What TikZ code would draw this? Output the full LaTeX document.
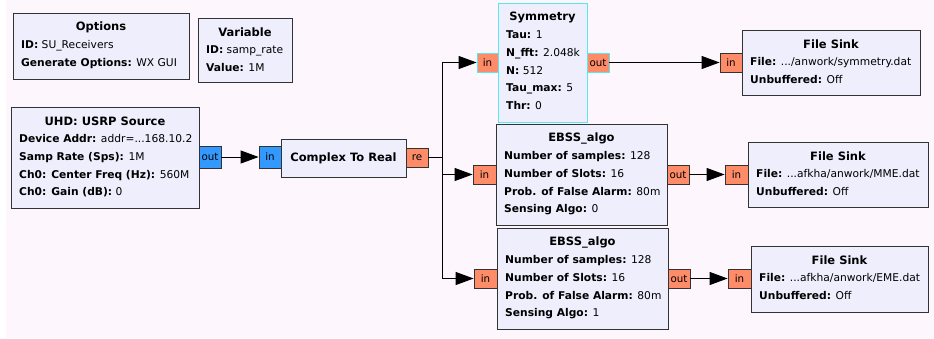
\documentclass[tikz,border=0pt]{standalone}
\usepackage{fontspec}
\setmainfont{DejaVu Sans}
\usetikzlibrary{arrows.meta}
\definecolor{bgc}{HTML}{FDF7FD}
\definecolor{blkfill}{HTML}{EEEEFD}
\definecolor{blkdraw}{HTML}{333333}
\definecolor{cplx}{HTML}{3399FF}
\definecolor{flt}{HTML}{FF8C69}
\definecolor{selc}{HTML}{55E8F0}
\newcommand\tdots{.\kern0pt.\kern0pt.}
\tikzset{
  blk/.style={draw=blkdraw, fill=blkfill, line width=1.1pt, inner sep=0pt},
  ttl/.style={font=\fontsize{11.5}{13}\selectfont\bfseries, inner sep=0pt},
  ln/.style={font=\fontsize{10.7}{12}\selectfont, inner sep=0pt},
  port/.style={draw=blkdraw, line width=0.8pt, inner sep=0pt, minimum width=22pt, minimum height=19pt, font=\fontsize{10.3}{12}\selectfont},
  cport/.style={port, fill=cplx, minimum height=22pt},
  fport/.style={port, fill=flt},
  conn/.style={line width=1pt, black},
  arr/.style={conn, -{Triangle[length=18pt,width=13pt]}}
}
\newcommand\grcblock[8][blk]{%
  \node[#1, minimum width={#5-#3}, minimum height={#6-#4}, anchor=north west] (#2) at (#3,#4) {};
  \node[ttl] (#2-t) at ({(#3+#5)/2},{#4+14}) {#7};
  \foreach \txt [count=\i] in {#8} {
    \node[ln, anchor=base west] (#2-l\i) at ({#3+8},{#4+32+17.7*(\i-1)+3.8}) {\txt};
  }
}
\begin{document}
\begin{tikzpicture}[x=1pt,y=-1pt]
\useasboundingbox (0,0) rectangle (934,338);
\fill[bgc] (6,0) rectangle (934,338);

\grcblock{opt}{13}{13}{189}{79}{Options}{{\textbf{ID:} SU\_Receivers},{\textbf{Generate Options:} WX GUI}}
\grcblock{var}{198}{18}{292}{82}{Variable}{{\textbf{ID:} samp\_rate},{\textbf{Value:} 1M}}
\grcblock{usrp}{11}{107}{199}{208}{UHD: USRP Source}{{\textbf{Device Addr:} addr=\tdots168.10.2},{\textbf{Samp Rate (Sps):} 1M},{\textbf{Ch0: Center Freq (Hz):} 560M},{\textbf{Ch0: Gain (dB):} 0}}
\node[blk, minimum width=125pt, minimum height=38pt, anchor=north west] (ctr) at (281,139) {};
\node[ttl] (ctr-t) at (343.5,158) {Complex To Real};
\grcblock[blk,draw=selc]{sym}{498}{3}{587}{122}{Symmetry}{{\textbf{Tau:} 1},{\textbf{N\_fft:} 2.048k},{\textbf{N:} 512},{\textbf{Tau\_max:} 5},{\textbf{Thr:} 0}}
\grcblock{fs1}{742}{30}{920}{95}{File Sink}{{\textbf{File:} \tdots/anwork/symmetry.dat},{\textbf{Unbuffered:} Off}}
\grcblock{eb1}{496}{124}{667}{225}{EBSS\_algo}{{\textbf{Number of samples:} 128},{\textbf{Number of Slots:} 16},{\textbf{Prob. of False Alarm:} 80m},{\textbf{Sensing Algo:} 0}}
\grcblock{eb2}{497}{228}{668}{329}{EBSS\_algo}{{\textbf{Number of samples:} 128},{\textbf{Number of Slots:} 16},{\textbf{Prob. of False Alarm:} 80m},{\textbf{Sensing Algo:} 1}}
\grcblock{fs2}{748}{142}{928}{207}{File Sink}{{\textbf{File:} \tdots afkha/anwork/MME.dat},{\textbf{Unbuffered:} Off}}
\grcblock{fs3}{751}{246}{928}{312}{File Sink}{{\textbf{File:} \tdots afkha/anwork/EME.dat},{\textbf{Unbuffered:} Off}}

% ports
\node[cport] (usrpout) at (210,157) {out};
\node[cport] (ctrin) at (270,157) {in};
\node[fport] (ctrre) at (417,157.5) {re};
\node[fport, draw=selc, minimum width=21pt] (symin) at (487.5,62.5) {in};
\node[fport, draw=selc] (symout) at (598,62.5) {out};
\node[fport] (fs1in) at (731,62.5) {in};
\node[fport, minimum width=23pt] (eb1in) at (484.5,174.5) {in};
\node[fport] (eb1out) at (678,174.5) {out};
\node[fport, minimum width=23pt] (fs2in) at (736.5,174.5) {in};
\node[fport, minimum width=23pt] (eb2in) at (485.5,278.5) {in};
\node[fport] (eb2out) at (679,278.5) {out};
\node[fport, minimum width=23pt] (fs3in) at (739.5,278.5) {in};

% connectors
\coordinate (j) at (442,157.5);
\draw[arr] (usrpout.east) -- (ctrin.west);
\draw[conn] (ctrre.east) -- (j);
\draw[arr] (j) |- (symin.west);
\draw[arr] (j) |- (eb1in.west);
\draw[arr] (j) |- (eb2in.west);
\draw[arr] (symout.east) -- (fs1in.west);
\draw[arr] (eb1out.east) -- (fs2in.west);
\draw[arr] (eb2out.east) -- (fs3in.west);
\end{tikzpicture}
\end{document}
